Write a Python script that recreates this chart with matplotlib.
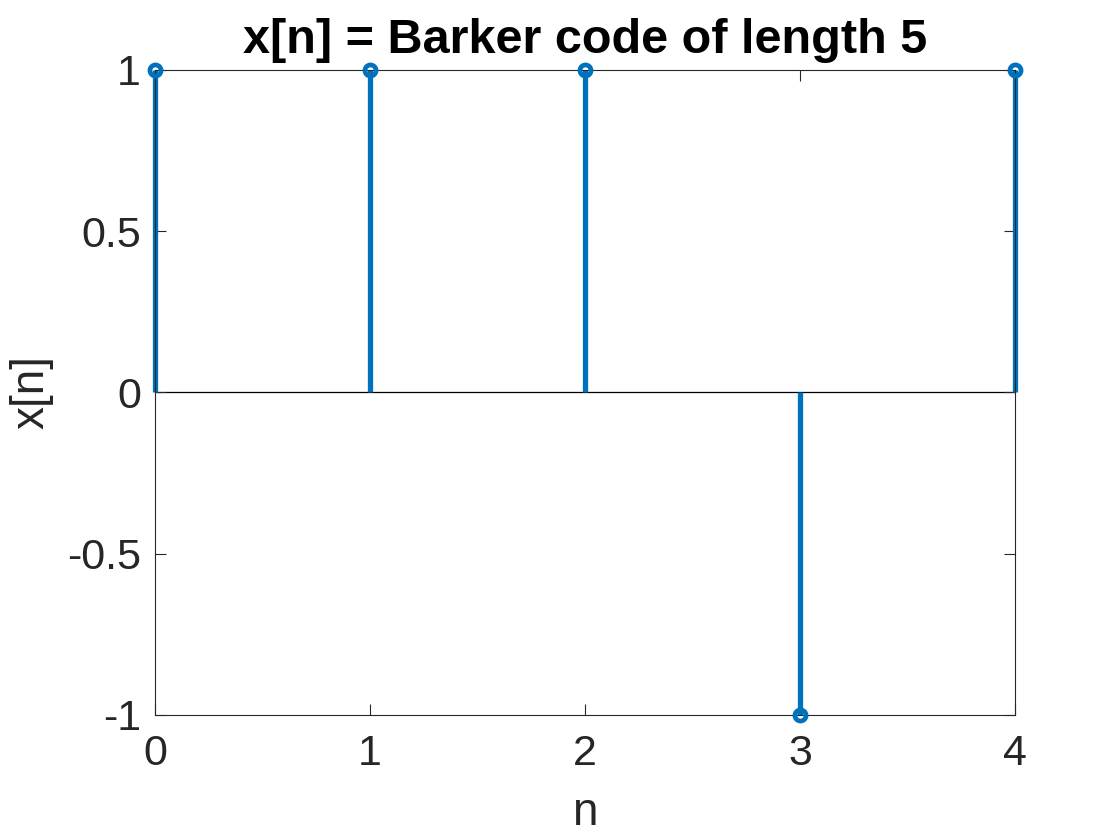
import numpy as np
import matplotlib.pyplot as plt

n = [0, 1, 2, 3, 4]
x = [1, 1, 1, -1, 1]
yticks = [-1, -0.5, 0, 0.5, 1]
ytick_labels = ['-1', '-0.5', '0', '0.5', '1']

plt.rcParams['font.family'] = ['Liberation Sans', 'DejaVu Sans']
blue = '#0072BD'
dark = '#262626'

fig = plt.figure(figsize=(11.2, 8.4), dpi=100)
ax = fig.add_axes([155 / 1120, 1 - 715 / 840, 860 / 1120, 645 / 840])

markers, stems, base = ax.stem(n, x, basefmt='k-')
plt.setp(stems, color=blue, linewidth=3.8, clip_on=False)
plt.setp(markers, color=blue, marker='o', markersize=8, markerfacecolor='none',
         markeredgewidth=3.4, zorder=5, clip_on=False)
plt.setp(base, color='black', linewidth=0.9, zorder=1)

ax.set_xlim(0, 4)
ax.set_ylim(-1, 1)
ax.set_xticks(n)
ax.set_yticks(yticks)
ax.set_yticklabels(ytick_labels)
ax.tick_params(direction='in', top=True, right=True, length=8, width=0.8,
               labelsize=31, colors=dark, labelcolor=dark)
ax.tick_params(axis='x', pad=14)
ax.tick_params(axis='y', pad=10)
for sp in ax.spines.values():
    sp.set_linewidth(0.8)
    sp.set_color(dark)

ax.set_xlabel('n', fontsize=33, color=dark, labelpad=12)
ax.set_ylabel('x[n]', fontsize=33, color=dark, labelpad=10)
ax.set_title('x[n] = Barker code of length 5', fontsize=35, fontweight='bold',
             color='black', pad=12)

fig.savefig('out.png', dpi=100)
